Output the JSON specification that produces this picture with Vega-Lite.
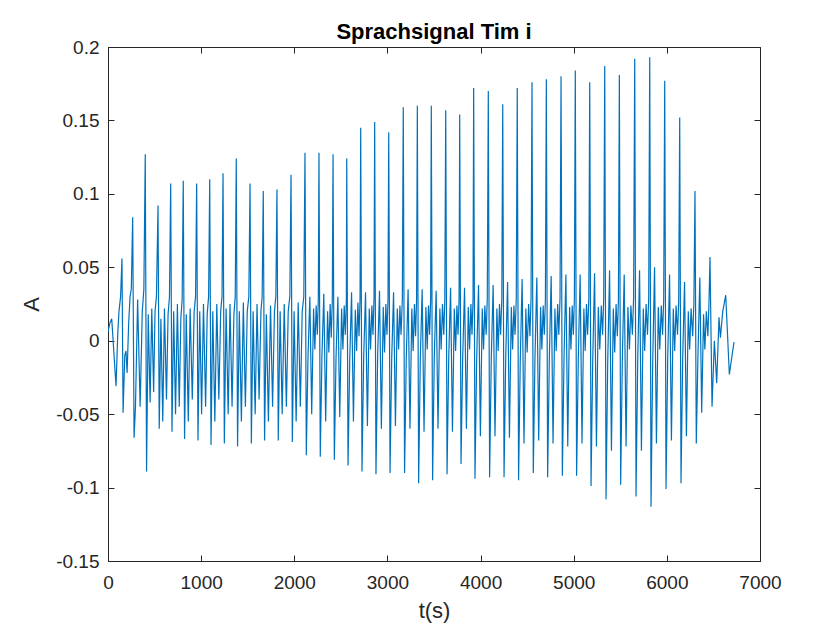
{
"$schema":"https://vega.github.io/schema/vega-lite/v6.json",
"autosize":"none",
"width":652,"height":514,
"padding":{"left":108,"top":47,"right":80,"bottom":69},
"background":"white",
"title":{"text":"Sprachsignal Tim i","font":"Liberation Sans","fontSize":22,"fontWeight":"bold","color":"#000000","offset":-6},
"config":{"view":{"stroke":"#262626","strokeWidth":1},
"axis":{"labelFont":"Liberation Sans","titleFont":"Liberation Sans","labelColor":"#262626","titleColor":"#262626","domainColor":"#262626","tickColor":"#262626","grid":false,"labelFontSize":19,"titleFontSize":22,"titleFontWeight":"normal","tickSize":-6,"domainWidth":1,"labelFlush":false,"labelOverlap":false}},
"data":{"values":[
{"t":0,"A":0.006},{"t":20,"A":0.012},{"t":40,"A":0.015},{"t":60,"A":-0.005},{"t":86,"A":-0.031},{"t":105,"A":0.005},{"t":118,"A":0.02},{"t":135,"A":0.03},
{"t":150,"A":0.056},{"t":162,"A":-0.049},{"t":180,"A":-0.01},{"t":193,"A":-0.007},{"t":205,"A":-0.022},{"t":222,"A":0.012},{"t":237,"A":0.03},{"t":250,"A":0.035},
{"t":265,"A":0.084},{"t":280,"A":-0.066},{"t":295,"A":-0.045},{"t":318,"A":0.028},{"t":345,"A":-0.045},{"t":368,"A":0.02},{"t":385,"A":0.035},
{"t":400,"A":0.127},{"t":414,"A":-0.089},{"t":432,"A":0.018},{"t":452,"A":-0.042},{"t":470,"A":0.022},{"t":490,"A":-0.035},{"t":505,"A":0.02},{"t":520,"A":0.03},
{"t":537,"A":0.092},{"t":550,"A":-0.06},{"t":568,"A":0.015},{"t":588,"A":-0.055},{"t":606,"A":0.022},{"t":628,"A":-0.04},{"t":645,"A":0.018},{"t":660,"A":0.03},
{"t":673,"A":0.107},{"t":687,"A":-0.062},{"t":705,"A":0.02},{"t":725,"A":-0.05},{"t":745,"A":0.025},{"t":765,"A":-0.045},{"t":782,"A":0.015},{"t":796,"A":0.028},
{"t":808,"A":0.109},{"t":822,"A":-0.067},{"t":840,"A":0.018},{"t":862,"A":-0.055},{"t":882,"A":0.022},{"t":905,"A":-0.04},{"t":925,"A":0.02},{"t":940,"A":0.03},
{"t":952,"A":0.107},{"t":966,"A":-0.068},{"t":985,"A":0.02},{"t":1005,"A":-0.05},{"t":1025,"A":0.025},{"t":1048,"A":-0.045},{"t":1065,"A":0.018},{"t":1080,"A":0.03},
{"t":1092,"A":0.11},{"t":1106,"A":-0.071},{"t":1125,"A":0.02},{"t":1147,"A":-0.055},{"t":1168,"A":0.025},{"t":1190,"A":-0.04},{"t":1210,"A":0.02},{"t":1224,"A":0.03},
{"t":1235,"A":0.114},{"t":1249,"A":-0.07},{"t":1268,"A":0.022},{"t":1290,"A":-0.05},{"t":1310,"A":0.025},{"t":1332,"A":-0.045},{"t":1352,"A":0.018},{"t":1366,"A":0.03},
{"t":1377,"A":0.124},{"t":1391,"A":-0.072},{"t":1410,"A":0.02},{"t":1432,"A":-0.055},{"t":1453,"A":0.026},{"t":1475,"A":-0.045},{"t":1495,"A":0.02},{"t":1512,"A":0.03},
{"t":1525,"A":0.107},{"t":1539,"A":-0.07},{"t":1558,"A":0.02},{"t":1580,"A":-0.05},{"t":1600,"A":0.025},{"t":1622,"A":-0.04},{"t":1642,"A":0.02},{"t":1655,"A":0.03},
{"t":1667,"A":0.102},{"t":1681,"A":-0.068},{"t":1700,"A":0.018},{"t":1722,"A":-0.055},{"t":1745,"A":0.024},{"t":1767,"A":-0.045},{"t":1787,"A":0.02},{"t":1802,"A":0.03},
{"t":1814,"A":0.103},{"t":1828,"A":-0.068},{"t":1848,"A":0.02},{"t":1870,"A":-0.05},{"t":1892,"A":0.025},{"t":1915,"A":-0.045},{"t":1935,"A":0.02},{"t":1952,"A":0.03},
{"t":1965,"A":0.113},{"t":1979,"A":-0.069},{"t":1998,"A":0.02},{"t":2020,"A":-0.055},{"t":2042,"A":0.026},{"t":2065,"A":-0.045},{"t":2085,"A":0.02},{"t":2102,"A":0.03},
{"t":2115,"A":0.128},{"t":2129,"A":-0.078},{"t":2147,"A":-0.012},{"t":2167,"A":0.03},{"t":2187,"A":-0.05},{"t":2207,"A":0.022},{"t":2221,"A":-0.006},{"t":2235,"A":0.024},{"t":2247,"A":0.004},{"t":2258,"A":0.028},
{"t":2265,"A":0.128},{"t":2279,"A":-0.079},{"t":2297,"A":-0.01},{"t":2317,"A":0.032},{"t":2337,"A":-0.055},{"t":2357,"A":0.02},{"t":2371,"A":-0.008},{"t":2385,"A":0.025},{"t":2397,"A":0.002},{"t":2408,"A":0.027},
{"t":2416,"A":0.127},{"t":2430,"A":-0.081},{"t":2448,"A":-0.012},{"t":2468,"A":0.03},{"t":2488,"A":-0.052},{"t":2508,"A":0.022},{"t":2522,"A":-0.006},{"t":2536,"A":0.024},{"t":2548,"A":0.004},{"t":2559,"A":0.028},
{"t":2563,"A":0.124},{"t":2577,"A":-0.085},{"t":2595,"A":-0.014},{"t":2615,"A":0.033},{"t":2635,"A":-0.055},{"t":2655,"A":0.021},{"t":2669,"A":-0.007},{"t":2683,"A":0.026},{"t":2695,"A":0.003},{"t":2706,"A":0.028},
{"t":2713,"A":0.145},{"t":2727,"A":-0.089},{"t":2745,"A":-0.012},{"t":2765,"A":0.033},{"t":2785,"A":-0.058},{"t":2805,"A":0.022},{"t":2819,"A":-0.006},{"t":2833,"A":0.024},{"t":2845,"A":0.004},{"t":2856,"A":0.029},
{"t":2863,"A":0.149},{"t":2877,"A":-0.091},{"t":2895,"A":-0.01},{"t":2915,"A":0.034},{"t":2935,"A":-0.06},{"t":2955,"A":0.023},{"t":2969,"A":-0.008},{"t":2983,"A":0.025},{"t":2995,"A":0.004},{"t":3006,"A":0.028},
{"t":3014,"A":0.142},{"t":3028,"A":-0.09},{"t":3046,"A":-0.012},{"t":3066,"A":0.033},{"t":3086,"A":-0.058},{"t":3106,"A":0.022},{"t":3120,"A":-0.006},{"t":3134,"A":0.024},{"t":3146,"A":0.004},{"t":3160,"A":0.028},
{"t":3170,"A":0.159},{"t":3184,"A":-0.09},{"t":3202,"A":-0.013},{"t":3222,"A":0.035},{"t":3242,"A":-0.06},{"t":3262,"A":0.022},{"t":3276,"A":-0.007},{"t":3290,"A":0.025},{"t":3302,"A":0.003},{"t":3313,"A":0.028},
{"t":3321,"A":0.16},{"t":3335,"A":-0.097},{"t":3353,"A":-0.012},{"t":3373,"A":0.035},{"t":3393,"A":-0.062},{"t":3413,"A":0.023},{"t":3427,"A":-0.006},{"t":3441,"A":0.024},{"t":3453,"A":0.004},{"t":3464,"A":0.029},
{"t":3471,"A":0.16},{"t":3485,"A":-0.095},{"t":3503,"A":-0.011},{"t":3523,"A":0.034},{"t":3543,"A":-0.06},{"t":3563,"A":0.022},{"t":3577,"A":-0.006},{"t":3591,"A":0.025},{"t":3605,"A":0.004},{"t":3616,"A":0.028},
{"t":3626,"A":0.157},{"t":3640,"A":-0.091},{"t":3658,"A":-0.012},{"t":3678,"A":0.036},{"t":3698,"A":-0.062},{"t":3718,"A":0.022},{"t":3732,"A":-0.007},{"t":3746,"A":0.024},{"t":3758,"A":0.004},{"t":3769,"A":0.028},
{"t":3776,"A":0.154},{"t":3790,"A":-0.084},{"t":3808,"A":-0.012},{"t":3828,"A":0.036},{"t":3848,"A":-0.06},{"t":3868,"A":0.023},{"t":3882,"A":-0.006},{"t":3896,"A":0.025},{"t":3908,"A":0.004},{"t":3919,"A":0.028},
{"t":3926,"A":0.172},{"t":3940,"A":-0.094},{"t":3958,"A":-0.013},{"t":3978,"A":0.038},{"t":3998,"A":-0.065},{"t":4018,"A":0.022},{"t":4032,"A":-0.006},{"t":4046,"A":0.024},{"t":4060,"A":0.004},{"t":4072,"A":0.029},
{"t":4083,"A":0.17},{"t":4097,"A":-0.093},{"t":4115,"A":-0.012},{"t":4135,"A":0.038},{"t":4155,"A":-0.065},{"t":4175,"A":0.022},{"t":4189,"A":-0.007},{"t":4203,"A":0.025},{"t":4215,"A":0.004},{"t":4228,"A":0.028},
{"t":4238,"A":0.161},{"t":4252,"A":-0.093},{"t":4270,"A":-0.012},{"t":4290,"A":0.04},{"t":4310,"A":-0.066},{"t":4330,"A":0.023},{"t":4344,"A":-0.006},{"t":4358,"A":0.024},{"t":4370,"A":0.004},{"t":4383,"A":0.028},
{"t":4394,"A":0.172},{"t":4408,"A":-0.095},{"t":4426,"A":-0.014},{"t":4446,"A":0.042},{"t":4466,"A":-0.07},{"t":4486,"A":0.022},{"t":4500,"A":-0.008},{"t":4516,"A":0.025},{"t":4530,"A":0.003},{"t":4542,"A":0.029},
{"t":4552,"A":0.176},{"t":4566,"A":-0.09},{"t":4584,"A":-0.012},{"t":4604,"A":0.043},{"t":4624,"A":-0.068},{"t":4644,"A":0.023},{"t":4658,"A":-0.006},{"t":4672,"A":0.024},{"t":4684,"A":0.004},{"t":4696,"A":0.028},
{"t":4706,"A":0.178},{"t":4720,"A":-0.093},{"t":4738,"A":-0.013},{"t":4758,"A":0.044},{"t":4778,"A":-0.07},{"t":4798,"A":0.022},{"t":4812,"A":-0.007},{"t":4828,"A":0.025},{"t":4840,"A":0.004},{"t":4853,"A":0.029},
{"t":4864,"A":0.18},{"t":4878,"A":-0.092},{"t":4896,"A":-0.012},{"t":4916,"A":0.045},{"t":4936,"A":-0.072},{"t":4956,"A":0.023},{"t":4970,"A":-0.006},{"t":4984,"A":0.024},{"t":4996,"A":0.004},{"t":5007,"A":0.028},
{"t":5017,"A":0.184},{"t":5031,"A":-0.092},{"t":5049,"A":-0.013},{"t":5069,"A":0.045},{"t":5089,"A":-0.07},{"t":5109,"A":0.022},{"t":5123,"A":-0.007},{"t":5137,"A":0.025},{"t":5149,"A":0.004},{"t":5162,"A":0.029},
{"t":5172,"A":0.176},{"t":5186,"A":-0.099},{"t":5204,"A":-0.014},{"t":5224,"A":0.046},{"t":5244,"A":-0.072},{"t":5264,"A":0.023},{"t":5280,"A":-0.006},{"t":5296,"A":0.024},{"t":5310,"A":0.004},{"t":5322,"A":0.029},
{"t":5333,"A":0.187},{"t":5347,"A":-0.108},{"t":5365,"A":-0.015},{"t":5385,"A":0.048},{"t":5405,"A":-0.075},{"t":5425,"A":0.022},{"t":5440,"A":-0.008},{"t":5455,"A":0.025},{"t":5468,"A":0.003},{"t":5480,"A":0.028},
{"t":5490,"A":0.181},{"t":5504,"A":-0.098},{"t":5522,"A":-0.013},{"t":5542,"A":0.045},{"t":5562,"A":-0.072},{"t":5582,"A":0.023},{"t":5598,"A":-0.006},{"t":5614,"A":0.024},{"t":5630,"A":0.004},{"t":5643,"A":0.029},
{"t":5655,"A":0.192},{"t":5669,"A":-0.106},{"t":5687,"A":-0.014},{"t":5707,"A":0.048},{"t":5727,"A":-0.075},{"t":5747,"A":0.022},{"t":5762,"A":-0.007},{"t":5777,"A":0.025},{"t":5792,"A":0.004},{"t":5805,"A":0.029},
{"t":5816,"A":0.193},{"t":5830,"A":-0.113},{"t":5848,"A":-0.015},{"t":5868,"A":0.05},{"t":5888,"A":-0.07},{"t":5908,"A":0.023},{"t":5924,"A":-0.006},{"t":5940,"A":0.024},{"t":5954,"A":0.004},{"t":5966,"A":0.028},
{"t":5977,"A":0.177},{"t":5991,"A":-0.101},{"t":6009,"A":-0.013},{"t":6029,"A":0.045},{"t":6049,"A":-0.068},{"t":6069,"A":0.022},{"t":6084,"A":-0.007},{"t":6099,"A":0.024},{"t":6114,"A":0.004},{"t":6127,"A":0.027},
{"t":6138,"A":0.152},{"t":6152,"A":-0.097},{"t":6170,"A":-0.012},{"t":6190,"A":0.04},{"t":6210,"A":-0.065},{"t":6230,"A":0.02},{"t":6245,"A":-0.006},{"t":6260,"A":0.022},{"t":6277,"A":0.003},{"t":6290,"A":0.025},
{"t":6302,"A":0.102},{"t":6316,"A":-0.07},{"t":6334,"A":-0.01},{"t":6354,"A":0.043},{"t":6374,"A":-0.049},{"t":6394,"A":0.018},{"t":6408,"A":-0.006},{"t":6424,"A":0.02},{"t":6440,"A":0.003},{"t":6452,"A":0.025},
{"t":6463,"A":0.057},{"t":6485,"A":-0.045},{"t":6510,"A":0.0},{"t":6535,"A":-0.029},{"t":6560,"A":0.016},{"t":6575,"A":0.002},{"t":6600,"A":0.02},{"t":6632,"A":0.031},{"t":6671,"A":-0.023},{"t":6700,"A":-0.01},{"t":6721,"A":-0.001}
]},
"layer":[
{"mark":{"type":"line","color":"#0072BD","strokeWidth":1.2,"clip":true},
"encoding":{
"x":{"field":"t","type":"quantitative","scale":{"domain":[0,7000],"nice":false},"axis":{"orient":"bottom","title":"t(s)","format":"d","values":[0,1000,2000,3000,4000,5000,6000,7000],"labelPadding":18,"titlePadding":8}},
"y":{"field":"A","type":"quantitative","scale":{"domain":[-0.15,0.2],"nice":false,"zero":false},"axis":{"orient":"left","title":"A","values":[-0.15,-0.1,-0.05,0,0.05,0.1,0.15,0.2],"labelExpr":"replace(format(datum.value,'~g'),'\u2212','-')","labelPadding":15,"titlePadding":12}}}},
{"mark":{"type":"line","opacity":0},
"encoding":{
"x":{"field":"t","type":"quantitative","scale":{"domain":[0,7000],"nice":false},"axis":{"orient":"top","title":null,"labels":false,"domain":false,"values":[0,1000,2000,3000,4000,5000,6000,7000]}},
"y":{"field":"A","type":"quantitative","scale":{"domain":[-0.15,0.2],"nice":false,"zero":false},"axis":{"orient":"right","title":null,"labels":false,"domain":false,"values":[-0.15,-0.1,-0.05,0,0.05,0.1,0.15,0.2]}}}}
],
"resolve":{"axis":{"x":"independent","y":"independent"}}
}
